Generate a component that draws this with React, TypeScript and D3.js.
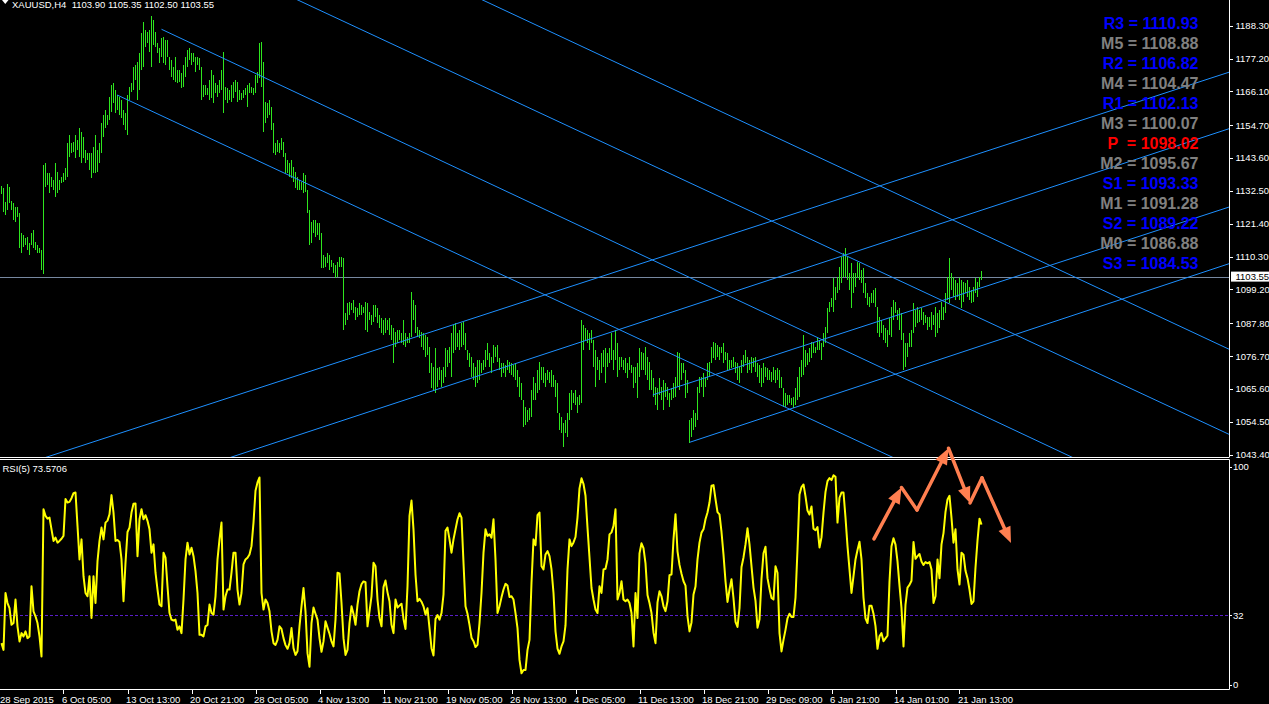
import React from 'react';
import * as d3 from 'd3';

const barHigh = [
1134.2,1133.5,1128.8,1134.8,1133.8,1129.1,1128.4,1127.1,1127.1,1125.0,
1118.3,1117.6,1116.6,1116.9,1114.9,1118.3,1119.3,1115.3,1114.2,1113.2,
1112.6,1141.3,1141.9,1138.6,1138.6,1137.2,1136.2,1141.9,1138.9,1136.2,
1137.2,1138.6,1140.3,1148.7,1151.4,1148.7,1149.0,1151.4,1149.7,1153.8,
1152.4,1150.7,1146.3,1145.3,1145.3,1145.3,1147.3,1151.4,1146.3,1148.7,
1155.5,1158.2,1159.8,1158.2,1164.2,1168.3,1169.0,1166.6,1164.9,1164.2,
1163.2,1159.8,1158.8,1164.9,1167.6,1169.0,1174.4,1175.0,1176.1,1179.1,
1185.9,1189.6,1186.9,1186.2,1186.9,1191.6,1190.2,1186.2,1182.5,1180.8,
1184.2,1184.5,1183.5,1183.5,1177.7,1176.7,1174.4,1177.7,1173.4,1173.4,
1172.3,1175.0,1177.7,1180.1,1180.8,1179.1,1179.1,1177.7,1177.7,1177.4,
1174.4,1168.3,1168.3,1167.3,1170.0,1173.4,1171.7,1169.0,1168.3,1170.0,
1173.4,1179.4,1167.6,1167.3,1166.6,1168.3,1169.3,1170.0,1169.3,1166.6,
1165.6,1166.6,1167.3,1168.3,1169.0,1167.6,1167.3,1171.7,1172.7,1182.5,
1182.8,1176.1,1162.5,1162.2,1163.2,1160.9,1155.5,1148.7,1149.7,1148.7,
1150.4,1149.0,1145.3,1143.0,1141.9,1143.0,1140.6,1138.9,1137.2,1136.2,
1135.5,1138.6,1137.9,1132.8,1126.1,1122.0,1122.7,1122.7,1121.7,1121.7,
1118.3,1110.9,1110.2,1111.5,1110.9,1109.2,1108.2,1107.5,1108.5,1110.2,
1110.2,1109.9,1091.3,1094.7,1095.0,1094.7,1095.7,1093.3,1093.0,1094.7,
1094.0,1093.3,1095.0,1094.7,1091.6,1090.6,1094.0,1094.0,1093.0,1090.6,
1089.6,1088.9,1089.6,1088.9,1089.6,1087.2,1086.2,1084.9,1085.5,1085.5,
1084.5,1088.9,1084.5,1083.2,1084.5,1098.4,1095.7,1094.0,1086.5,1085.5,
1084.9,1084.5,1083.8,1083.2,1079.8,1074.4,1073.0,1079.5,1072.7,1073.0,
1072.0,1073.0,1079.5,1078.8,1079.8,1084.5,1087.2,1087.9,1084.5,1085.5,
1087.9,1088.2,1084.5,1078.8,1077.8,1076.4,1074.4,1073.0,1075.4,1075.4,
1074.4,1075.4,1078.8,1081.1,1077.8,1076.4,1080.5,1079.8,1080.5,1076.1,
1074.4,1074.4,1073.7,1075.4,1074.7,1074.4,1073.7,1074.4,1072.0,1069.7,
1067.6,1061.9,1059.5,1058.5,1059.2,1065.3,1069.7,1067.6,1072.0,1074.7,
1073.0,1073.0,1071.0,1072.0,1071.3,1072.0,1070.3,1068.6,1067.6,1057.5,
1056.1,1054.1,1055.1,1057.5,1064.2,1065.3,1064.2,1065.3,1062.9,1063.6,
1088.9,1087.2,1086.2,1085.5,1084.5,1085.5,1082.2,1078.8,1076.4,1075.4,
1077.8,1078.8,1079.5,1077.8,1079.5,1084.5,1078.8,1085.5,1081.1,1076.4,
1076.4,1075.4,1076.1,1074.4,1076.4,1073.7,1073.0,1073.0,1074.4,1079.5,
1078.1,1077.8,1079.8,1076.4,1074.7,1072.0,1069.3,1066.3,1065.9,1069.3,
1066.3,1068.6,1067.6,1066.3,1064.2,1065.9,1067.6,1069.7,1078.1,1077.8,
1074.4,1074.4,1072.0,1068.6,1055.1,1055.8,1058.5,1057.5,1066.3,1069.7,
1069.7,1071.0,1069.7,1074.4,1074.7,1079.8,1081.5,1081.1,1080.5,1079.8,
1079.8,1081.1,1078.1,1077.8,1075.4,1075.4,1076.4,1074.7,1074.4,1073.0,
1075.4,1077.1,1078.8,1076.4,1075.4,1076.4,1076.1,1076.4,1074.4,1073.7,
1072.7,1074.4,1073.0,1072.7,1072.0,1071.3,1073.0,1072.0,1072.7,1072.0,
1069.7,1065.9,1064.2,1063.6,1063.6,1062.6,1062.9,1065.9,1069.7,1073.0,
1075.4,1083.8,1078.8,1077.8,1079.5,1081.5,1081.1,1079.8,1082.8,1082.2,
1081.1,1084.5,1086.5,1093.0,1095.0,1096.3,1103.1,1100.1,1103.4,1106.8,
1110.2,1111.5,1113.2,1110.2,1104.8,1108.2,1104.8,1104.8,1108.5,1108.2,
1105.8,1106.5,1101.4,1098.0,1096.7,1098.0,1099.0,1099.7,1093.3,1089.9,
1088.9,1087.2,1086.2,1085.5,1089.6,1093.3,1095.7,1095.0,1092.3,1093.0,
1091.3,1084.5,1081.1,1081.1,1084.5,1085.5,1094.7,1092.3,1093.3,1092.3,
1093.0,1091.6,1090.6,1089.9,1089.9,1091.6,1090.6,1093.3,1091.3,1092.3,
1095.0,1093.3,1098.0,1103.4,1109.9,1104.8,1103.4,1102.4,1101.4,1103.1,
1102.4,1101.7,1101.4,1102.4,1100.1,1099.0,1100.1,1103.1,1101.7,1103.4,1105.35
];

const barLow = [
1131.5,1125.4,1124.4,1126.1,1128.4,1126.1,1122.7,1122.0,1123.7,1113.2,
1111.5,1113.6,1114.2,1112.6,1110.9,1114.2,1113.2,1112.6,1111.5,1111.5,
1105.8,1104.4,1133.8,1134.5,1131.8,1133.8,1132.8,1130.5,1131.8,1132.8,
1135.2,1135.5,1136.2,1137.2,1144.0,1145.3,1145.7,1143.6,1146.3,1144.0,
1141.9,1143.6,1141.9,1143.0,1139.6,1136.9,1138.6,1138.6,1138.9,1141.9,
1145.3,1150.7,1153.8,1154.8,1156.5,1159.2,1162.2,1158.8,1159.8,1158.2,
1157.1,1154.8,1153.1,1151.4,1163.2,1165.9,1166.6,1170.0,1163.2,1166.6,
1173.4,1174.4,1181.1,1182.5,1179.4,1174.4,1181.8,1181.1,1179.1,1175.7,
1177.7,1175.7,1175.0,1177.7,1173.4,1171.0,1170.0,1169.3,1169.0,1169.3,
1167.3,1167.6,1171.0,1174.4,1176.7,1175.0,1176.1,1172.7,1175.0,1173.4,
1163.2,1164.2,1164.9,1164.9,1163.2,1163.9,1162.2,1165.6,1164.2,1165.6,
1166.6,1158.8,1163.2,1162.2,1163.2,1162.5,1163.9,1165.9,1162.5,1163.2,
1163.2,1163.9,1164.9,1160.9,1165.6,1165.6,1164.9,1165.6,1169.0,1170.7,
1167.6,1152.4,1155.5,1157.1,1158.2,1153.1,1145.3,1144.6,1145.7,1145.3,
1146.3,1144.0,1138.6,1138.6,1137.2,1136.9,1135.5,1133.5,1132.8,1132.8,
1132.8,1131.8,1132.1,1125.0,1114.2,1114.9,1118.3,1116.9,1117.6,1115.9,
1106.5,1106.5,1106.8,1108.2,1105.8,1106.8,1104.8,1103.1,1103.4,1106.8,
1106.8,1085.5,1087.2,1088.9,1090.6,1092.3,1091.3,1088.9,1089.9,1090.6,
1090.6,1091.3,1085.5,1084.9,1088.9,1087.2,1088.2,1089.9,1087.9,1086.2,
1084.5,1083.8,1084.5,1085.5,1083.8,1082.2,1074.4,1079.8,1081.1,1082.2,
1081.1,1080.5,1079.8,1081.1,1081.1,1083.2,1088.9,1084.5,1083.2,1082.8,
1079.8,1078.8,1076.4,1077.1,1071.0,1065.9,1065.3,1064.2,1066.3,1068.6,
1066.3,1067.6,1069.7,1073.0,1074.4,1069.7,1077.8,1078.8,1079.8,1078.8,
1079.8,1080.5,1078.8,1075.4,1073.0,1069.7,1068.6,1066.3,1067.6,1068.6,
1071.0,1072.0,1073.0,1075.4,1073.0,1071.0,1074.4,1076.4,1074.7,1072.0,
1069.7,1071.0,1069.7,1072.0,1071.0,1070.3,1069.7,1068.6,1066.3,1062.9,
1061.9,1052.8,1053.4,1054.5,1055.1,1056.1,1061.9,1061.9,1064.2,1065.3,
1068.6,1067.6,1066.3,1068.6,1067.6,1066.3,1066.3,1062.9,1057.5,1051.7,
1050.7,1046.0,1050.7,1049.4,1055.1,1058.5,1060.9,1060.2,1057.5,1060.2,
1060.9,1078.8,1082.2,1081.1,1078.8,1081.1,1073.0,1066.3,1072.0,1068.6,
1071.0,1073.0,1067.6,1073.0,1074.4,1075.4,1072.0,1075.4,1069.7,1072.0,
1073.0,1072.0,1071.0,1069.3,1072.0,1071.0,1065.9,1067.6,1062.6,1069.7,
1072.0,1072.0,1070.3,1068.6,1065.3,1065.3,1062.9,1060.2,1058.5,1063.6,
1061.9,1058.5,1062.9,1061.9,1059.5,1061.9,1062.6,1062.9,1066.3,1065.3,
1068.6,1071.0,1062.6,1064.2,1047.4,1049.4,1051.7,1052.8,1055.1,1064.2,
1066.3,1062.9,1066.3,1068.6,1069.7,1074.4,1076.1,1075.4,1076.4,1075.4,
1077.8,1074.4,1075.4,1072.0,1072.0,1072.7,1073.0,1071.0,1068.6,1067.6,
1071.0,1073.0,1074.4,1071.0,1072.0,1071.0,1073.0,1071.3,1069.7,1067.6,
1066.3,1067.6,1069.7,1068.6,1068.6,1068.0,1068.6,1067.6,1068.6,1065.9,
1065.9,1059.5,1059.5,1060.2,1060.9,1060.2,1059.2,1060.2,1061.9,1062.9,
1069.7,1070.3,1073.0,1073.7,1074.7,1076.1,1077.8,1077.8,1078.8,1078.8,
1075.4,1079.8,1081.1,1084.5,1091.6,1093.3,1091.6,1095.7,1098.0,1099.0,
1101.4,1103.4,1103.4,1102.4,1099.0,1093.0,1098.0,1100.1,1103.1,1102.4,
1101.4,1098.0,1096.3,1094.0,1093.3,1094.7,1094.7,1093.3,1084.5,1083.2,
1084.5,1082.2,1081.1,1079.8,1083.8,1083.2,1088.9,1091.3,1088.9,1085.5,
1082.2,1072.0,1073.0,1076.4,1079.8,1079.8,1084.5,1086.5,1087.9,1088.2,
1088.9,1087.2,1087.9,1085.5,1086.5,1085.5,1087.2,1083.2,1084.5,1086.2,
1088.9,1088.9,1091.3,1095.7,1094.7,1099.0,1096.7,1095.7,1096.7,1095.7,
1093.0,1095.0,1098.0,1096.7,1095.7,1094.7,1095.0,1098.0,1096.7,1100.1,1102.50
];

const rsiValues = [
19.2,16.1,42.2,37.6,35.3,27.6,28.4,39.2,26.9,20.0,
23.8,22.3,24.6,21.5,22.3,45.3,33.8,31.5,28.4,22.3,
13.1,80.6,77.6,76.3,76.8,71.4,66.1,67.6,65.3,66.1,
67.1,68.4,85.3,83.7,84.0,85.7,88.0,88.3,73.0,57.6,
66.8,49.9,42.2,40.7,49.9,30.7,49.9,37.6,56.8,66.1,
72.2,66.8,74.5,75.4,78.3,87.1,79.1,66.1,66.5,65.6,
57.6,38.4,56.1,70.2,72.2,79.1,83.1,83.3,59.1,76.0,
80.6,76.0,77.9,75.3,71.4,60.7,64.5,51.5,43.8,36.9,
36.1,60.7,58.4,45.3,33.0,30.0,29.6,30.0,25.3,26.9,
23.8,39.2,57.6,65.3,59.9,63.0,59.1,52.2,42.2,23.0,
23.0,22.3,26.9,27.6,36.9,33.0,32.3,40.7,57.6,66.8,
74.5,34.6,40.7,43.8,43.8,51.5,60.7,60.7,43.8,36.9,
42.2,55.3,57.6,58.4,59.9,63.7,74.5,89.1,92.9,95.2,
42.2,34.6,39.2,37.6,33.8,24.6,19.2,18.4,20.7,26.9,
25.7,21.5,18.3,16.6,19.2,26.1,16.9,13.8,15.5,26.9,
36.1,44.5,33.8,14.6,8.4,28.4,35.5,32.7,30.0,21.5,
15.2,20.0,29.2,26.3,23.5,20.0,17.7,30.0,51.5,51.2,
37.6,21.5,13.8,16.1,28.4,36.1,32.6,27.6,36.9,43.0,
46.2,47.5,47.2,26.9,33.8,40.7,56.1,54.5,39.2,30.7,
26.9,44.9,47.9,42.5,38.4,27.6,23.8,39.2,35.5,36.4,
37.3,30.3,25.7,45.3,77.6,84.6,71.4,50.7,38.4,39.5,
38.2,36.1,32.3,35.2,26.1,16.9,13.5,30.3,32.1,30.0,
33.0,41.5,70.7,72.2,66.8,60.7,66.8,71.4,75.9,78.8,
76.8,56.1,36.1,32.7,27.6,21.7,20.1,17.4,18.4,28.4,
42.2,60.7,71.4,68.4,69.1,67.6,76.0,57.6,33.0,36.1,
40.2,43.8,46.4,45.6,40.4,40.7,39.2,33.0,26.1,11.5,
5.4,6.9,6.9,16.1,20.7,46.9,66.8,64.1,77.9,79.1,
54.5,53.0,59.9,61.4,59.1,53.0,42.2,24.6,16.7,14.3,
17.7,20.0,27.3,53.0,66.8,63.7,65.4,67.9,76.8,90.2,
94.8,92.2,86.8,72.2,58.4,44.5,39.2,34.6,33.0,45.3,
42.2,53.0,53.3,57.6,69.1,70.0,73.0,80.6,39.2,42.2,
47.6,39.2,38.4,39.2,37.6,33.0,17.7,42.2,30.7,60.4,
65.0,62.8,55.8,41.3,37.6,33.0,24.1,19.2,37.9,43.0,
40.7,36.1,33.9,38.4,50.4,50.7,66.8,78.3,61.3,55.1,
51.0,47.6,45.6,31.5,24.6,28.7,41.5,45.2,57.6,65.3,
69.9,71.4,76.0,79.1,83.7,91.4,91.7,85.3,79.3,78.3,
70.2,59.8,47.6,38.1,43.8,48.5,39.8,29.0,26.6,35.2,
54.1,58.5,64.5,71.9,64.5,54.5,44.7,38.6,26.3,30.0,
48.7,60.4,63.4,49.0,44.1,39.9,39.2,54.5,51.5,23.8,
15.4,20.7,25.3,30.6,32.7,31.2,31.2,40.1,62.2,87.4,
90.8,92.0,86.5,80.0,78.2,81.9,71.7,71.0,72.4,63.1,
67.7,79.1,88.6,93.5,94.9,94.0,96.2,95.5,74.5,85.9,
88.3,88.3,76.8,63.7,53.0,42.2,49.9,57.6,61.9,65.7,
57.6,40.1,30.6,28.4,36.4,36.4,32.7,27.0,16.6,22.3,
23.8,20.1,21.4,22.6,47.5,63.7,67.3,64.4,56.7,45.6,
35.2,17.7,36.9,44.7,45.9,47.8,65.6,57.9,59.1,60.1,
56.7,55.1,56.4,55.8,56.4,53.0,37.6,40.7,57.6,49.0,
64.5,69.7,79.4,85.1,86.8,76.7,65.3,71.4,53.0,46.1,
60.7,59.8,52.4,49.0,43.8,37.2,38.4,53.9,66.2,76.3,73.57
];

const lastOHLC = [1103.90, 1105.35, 1102.50, 1103.55];
const symbolLabel = 'XAUUSD,H4';
const rsiLabel = 'RSI(5) 73.5706';

const priceTicks = [1188.30, 1177.20, 1166.10, 1154.70, 1143.60, 1132.50, 1121.40, 1110.30, 1099.20, 1087.80, 1076.70, 1065.60, 1054.50, 1043.40];
const rsiTicks = [100, 32, 0];
const rsiLevel = 32;

const timeTickIndex = [-1, 31, 63, 95, 127, 159, 191, 223, 255, 287, 319, 351, 383, 415, 447, 479];
const timeTickLabels = ['28 Sep 2015', '6 Oct 05:00', '13 Oct 13:00', '20 Oct 21:00', '28 Oct 05:00', '4 Nov 13:00', '11 Nov 21:00', '19 Nov 05:00', '26 Nov 13:00', '4 Dec 05:00', '11 Dec 13:00', '18 Dec 21:00', '29 Dec 09:00', '6 Jan 21:00', '14 Jan 01:00', '21 Jan 13:00'];

const pivotNames = ['R3', 'M5', 'R2', 'M4', 'R1', 'M3', 'P ', 'M2', 'S1', 'M1', 'S2', 'M0', 'S3'];
const pivotValues = [1110.93, 1108.88, 1106.82, 1104.47, 1102.13, 1100.07, 1098.02, 1095.67, 1093.33, 1091.28, 1089.22, 1086.88, 1084.53];
const pivotKinds = ['rs', 'm', 'rs', 'm', 'rs', 'm', 'p', 'm', 'rs', 'm', 'rs', 'm', 'rs'];

// channel lines: [barIndex1, price1, barIndex2, price2, extendBackward]
const channelLines = [
  [57.8, 1164.9, 445.3, 1042.6, 0],
  [80, 1187.1, 304.25, 1115.9, 0],
  [148.1, 1197.0, 609.25, 1051.7, 1],
  [240.5, 1197.0, 609.25, 1080.45, 1],
  [22.6, 1042.6, 609.25, 1171.6, 1],
  [115, 1042.6, 609.25, 1152.5, 1],
  [325.65, 1063.6, 609.25, 1126.05, 0],
  [344.15, 1047.6, 609.25, 1106.9, 0],
];

// orange annotation arrows on the RSI pane: [barIndex, rsi]
const arrowPoints = [[436.25, 67], [450, 90.6], [457.75, 80.3], [473.5, 108.6], [484.25, 83.5], [490.25, 95], [504.75, 65.1]];
const arrowHeads = [1, 0, 1, 1, 0, 1];

const FONT = "'Liberation Sans', Arial, sans-serif";

export default function App() {
  const W = 1269, H = 704;
  const plotR = 1229;
  const mainBottom = 457;
  const xs = d3.scaleLinear().domain([0, 490]).range([1.5, 981.5]);
  const ys = d3.scaleLinear().domain([1042.62, 1196.98]).range([457, 0]);
  const yr = d3.scaleLinear().domain([0, 100]).range([685, 467]);

  const barPath = barHigh.map((h, i) => `M${xs(i)},${ys(h).toFixed(2)}V${ys(barLow[i]).toFixed(2)}`).join('');
  const rsiPath = d3.line<number>().x((_, i) => xs(i)).y((d) => yr(d))(rsiValues) || '';

  const lines = channelLines.map((l, k) => {
    const x1 = xs(l[0]), y1 = ys(l[1]), x2 = xs(l[2]), y2 = ys(l[3]);
    const dx = x2 - x1, dy = y2 - y1;
    const t0 = l[4] ? -5 : 0, t1 = 5;
    return <line key={k} x1={x1 + dx * t0} y1={y1 + dy * t0} x2={x1 + dx * t1} y2={y1 + dy * t1} stroke="#1e90ff" strokeWidth={1} />;
  });

  const arrows = [];
  for (let s = 0; s < arrowPoints.length - 1; s++) {
    const ax = xs(arrowPoints[s][0]), ay = yr(arrowPoints[s][1]);
    const bx = xs(arrowPoints[s + 1][0]), by = yr(arrowPoints[s + 1][1]);
    const len = Math.hypot(bx - ax, by - ay);
    const ux = (bx - ax) / len, uy = (by - ay) / len;
    if (arrowHeads[s]) {
      const L = 16, Wd = 13;
      const cx = bx - ux * L, cy = by - uy * L;
      const nx = -uy, ny = ux;
      arrows.push(<line key={'l' + s} x1={ax} y1={ay} x2={cx + ux * 2} y2={cy + uy * 2} stroke="#ff7f50" strokeWidth={3.5} strokeLinecap="round" />);
      arrows.push(<polygon key={'h' + s} points={`${bx},${by} ${cx + nx * Wd / 2},${cy + ny * Wd / 2} ${cx - nx * Wd / 2},${cy - ny * Wd / 2}`} fill="#ff7f50" />);
    } else {
      arrows.push(<line key={'l' + s} x1={ax} y1={ay} x2={bx} y2={by} stroke="#ff7f50" strokeWidth={3.5} strokeLinecap="round" />);
    }
  }

  const pivotColor = (k: string) => (k === 'rs' ? '#0000ff' : k === 'p' ? '#ff0000' : '#808080');
  const fmt = (v: number) => v.toFixed(2);
  const close = lastOHLC[3];

  return (
    <svg width={W} height={H} style={{ position: 'absolute', left: 0, top: 0, background: '#000' }} fontFamily={FONT}>
      <defs>
        <clipPath id="mainClip"><rect x={0} y={0} width={plotR} height={mainBottom} /></clipPath>
        <clipPath id="rsiClip"><rect x={0} y={460} width={plotR} height={229} /></clipPath>
      </defs>
      <rect x={0} y={0} width={W} height={H} fill="#000" />

      {/* main chart */}
      <g clipPath="url(#mainClip)">
        <line x1={0} x2={plotR} y1={Math.round(ys(close)) + 0.5} y2={Math.round(ys(close)) + 0.5} stroke="#7788a0" strokeWidth={1} />
        <path d={barPath} stroke="#2ee61e" strokeWidth={1} fill="none" shapeRendering="crispEdges" />
        {lines}
      </g>

      {/* pivot labels */}
      {pivotNames.map((n, k) => (
        <text key={n + k} x={1198.5} y={29 + 20 * k} textAnchor="end" fontSize={16}
          fontWeight="bold" fill={pivotColor(pivotKinds[k])}
          style={{ whiteSpace: 'pre' }}>{`${n} = ${fmt(pivotValues[k])}`}</text>
      ))}

      {/* title */}
      <polygon points="2,0 8.5,0 5.25,4" fill="#fff" />
      <text x={12} y={8} fontSize={9.5} fill="#fff" style={{ whiteSpace: 'pre' }}>
        {`${symbolLabel}  ${lastOHLC.map(fmt).join(' ')}`}
      </text>

      {/* right price axis */}
      <line x1={plotR + 0.5} x2={plotR + 0.5} y1={0} y2={mainBottom} stroke="#fff" />
      {priceTicks.map((p) => (
        <g key={p}>
          <line x1={plotR} x2={plotR + 4} y1={Math.round(ys(p)) + 0.5} y2={Math.round(ys(p)) + 0.5} stroke="#fff" />
          <text x={1235.5} y={ys(p) + 3.4} fontSize={9.5} fill="#fff">{fmt(p)}</text>
        </g>
      ))}
      <rect x={1231} y={ys(close) - 5} width={38} height={10} fill="#fff" />
      <text x={1235.5} y={ys(close) + 3.4} fontSize={9.5} fill="#000">{fmt(close)}</text>

      {/* separator */}
      <line x1={0} x2={plotR + 0.5} y1={457.5} y2={457.5} stroke="#fff" />
      <line x1={0} x2={plotR + 0.5} y1={459.5} y2={459.5} stroke="#fff" />

      {/* RSI pane */}
      <line x1={plotR + 0.5} x2={plotR + 0.5} y1={459.5} y2={689.5} stroke="#fff" />
      <line x1={0} x2={plotR + 0.5} y1={689.5} y2={689.5} stroke="#fff" />
      <line x1={0} x2={plotR} y1={Math.round(yr(rsiLevel)) + 0.5} y2={Math.round(yr(rsiLevel)) + 0.5} stroke="#5a1ec8" strokeDasharray="3,2" />
      <g clipPath="url(#rsiClip)">
        <path d={rsiPath} stroke="#ffff00" strokeWidth={2} fill="none" strokeLinejoin="round" />
      </g>
      <text x={2.5} y={472} fontSize={9.5} fill="#fff">{rsiLabel}</text>
      {rsiTicks.map((t) => (
        <g key={t}>
          <line x1={plotR} x2={plotR + 3} y1={Math.round(yr(t)) + 0.5} y2={Math.round(yr(t)) + 0.5} stroke="#fff" />
          <text x={1233} y={yr(t) + 3.4} fontSize={9.5} fill="#fff">{String(t)}</text>
        </g>
      ))}
      {arrows}

      {/* time axis */}
      {timeTickIndex.map((ti, k) => (
        <g key={ti}>
          <line x1={Math.round(xs(ti)) + 0.5} x2={Math.round(xs(ti)) + 0.5} y1={689.5} y2={694} stroke="#fff" />
          <text x={Math.max(xs(ti) - 1.5, 0)} y={702.5} fontSize={9.5} fill="#fff">{timeTickLabels[k]}</text>
        </g>
      ))}
    </svg>
  );
}
